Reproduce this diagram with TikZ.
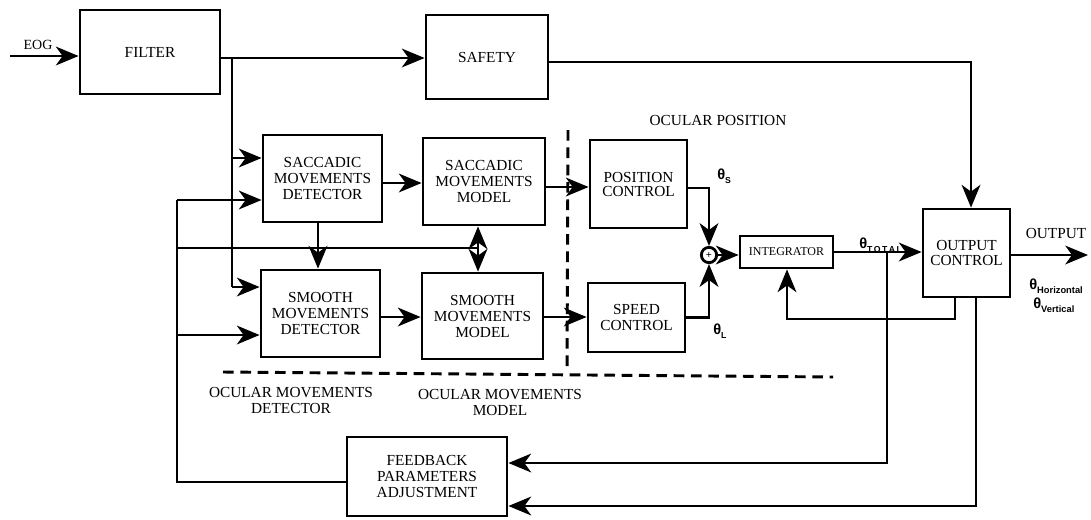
\documentclass[tikz,border=0pt]{standalone}
\usepackage{fontspec}
\setmainfont{Liberation Serif}
\newfontfamily\thf{Liberation Sans}
\usetikzlibrary{arrows.meta}
\newcommand{\thsub}[2][6.5]{{\thf\bfseries θ}\raisebox{-0.3em}{\thf\bfseries\fontsize{#1}{#1}\selectfont #2}}
\begin{document}
\begin{tikzpicture}[x=0.75pt,y=-0.75pt,
  box/.style={draw, line width=2.1pt, rectangle, align=center, inner sep=0pt,
              font=\fontsize{11.5}{12}\selectfont},
  wire/.style={line width=2.1pt},
  arr/.style={wire, -{Stealth[length=17pt,width=14pt,inset=5pt]}},
  zone/.style={line width=2.2pt, dash pattern=on 8pt off 5pt},
  lbl/.style={inner sep=0pt, align=center, font=\fontsize{11.5}{12}\selectfont},
  th/.style={inner sep=0pt, anchor=west, font=\thf\bfseries\fontsize{11}{11}\selectfont}
]
\useasboundingbox (0,0) rectangle (1091,519);

% blocks
\node[box, minimum width=105pt, minimum height=63pt] (filter) at (150,52) {FILTER};
\node[box, minimum width=91.5pt, minimum height=63pt] (safety) at (487,57) {SAFETY};
\node[box, minimum width=89.25pt, minimum height=65.25pt] (sdet) at (322.5,178.5) {SACCADIC\\MOVEMENTS\\DETECTOR};
\node[box, minimum width=91.5pt, minimum height=65.25pt] (smod) at (484,181.5) {SACCADIC\\MOVEMENTS\\MODEL};
\node[box, minimum width=89.25pt, minimum height=65.25pt] (mdet) at (320.5,313.5) {SMOOTH\\MOVEMENTS\\DETECTOR};
\node[box, minimum width=90.75pt, minimum height=64.5pt] (mmod) at (482.5,316) {SMOOTH\\MOVEMENTS\\MODEL};
\node[box, minimum width=72.75pt, minimum height=66pt, font=\fontsize{11.5}{10.5}\selectfont] (pos) at (638.5,184) {POSITION\\CONTROL};
\node[box, minimum width=72.75pt, minimum height=51.75pt] (speed) at (636.5,317.5) {SPEED\\CONTROL};
\node[draw, circle, line width=2.1pt, minimum size=11.5pt, inner sep=0pt, font=\bfseries\fontsize{8}{8}\selectfont] (sum) at (709,255) {+};
\node[box, minimum width=69.75pt, minimum height=24pt, font=\fontsize{9}{9}\selectfont] (integ) at (786.5,252) {INTEGRATOR};
\node[box, minimum width=65.25pt, minimum height=66pt, font=\fontsize{11.5}{10.6}\selectfont] (outc) at (966.5,253) {OUTPUT\\CONTROL};
\node[box, minimum width=120pt, minimum height=59.25pt] (fb) at (427,476.5) {FEEDBACK\\PARAMETERS\\ADJUSTMENT};

% labels
\node[lbl, font=\fontsize{10.5}{10.5}\selectfont] (eog) at (38,45) {EOG};
\node[lbl] (ocpos) at (718,120) {OCULAR POSITION};
\node[lbl] (omdet) at (291,400) {OCULAR MOVEMENTS\\DETECTOR};
\node[lbl] (ommod) at (500,402) {OCULAR MOVEMENTS\\MODEL};
\node[lbl] (outlbl) at (1056,233) {OUTPUT};
\node[th] (ths) at (717,176) {\thsub{S}};
\node[th] (thl) at (713,331) {\thsub{L}};
\node[th] (thtot) at (859,245) {\thsub{T\,O\,T\,A\,L}};
\node[th] (thh) at (1029,286) {\thsub[7]{Horizontal}};
\node[th] (thv) at (1033,305) {\thsub[7]{Vertical}};

% zone boundaries
\coordinate (dz1) at (223,372);
\coordinate (dz2) at (833,377);
\coordinate (dv1) at (568,130);
\coordinate (dv2) at (567,372);
\draw[zone] (dz1) -- (dz2);
\draw[zone] (dv1) -- (dv2);

% input and filter outputs
\coordinate (eogin) at (10,56);
\draw[arr] (eogin) -- (eogin -| filter.west);
\coordinate (fo) at (220,58);
\draw[arr] (fo) -- (fo -| safety.west);
\coordinate (br) at (232,58);
\coordinate (b1) at (232,158);
\coordinate (b2) at (232,287);
\draw[wire] (br) -- (b2);
\draw[arr] (b1) -- (b1 -| sdet.west);
\draw[arr] (b2) -- (b2 -| mdet.west);

% feedback distribution on the left
\coordinate (L1) at (177,200);
\coordinate (L2) at (177,248);
\coordinate (L3) at (177,335);
\coordinate (L4) at (177,482);
\coordinate (J) at (478,248);
\draw[wire] (L4 -| fb.west) -- (L4) -- (L1);
\draw[arr] (L1) -- (L1 -| sdet.west);
\draw[arr] (L3) -- (L3 -| mdet.west);
\draw[wire] (L2) -- (J);
\draw[arr] (J) -- (J |- smod.south);
\draw[arr] (J) -- (J |- mmod.north);

% detectors and models
\coordinate (a1) at (382,183);
\draw[arr] (a1) -- (a1 -| smod.west);
\coordinate (a2) at (318,222);
\draw[arr] (a2) -- (a2 |- mdet.north);
\coordinate (a3) at (380,317);
\draw[arr] (a3) -- (a3 -| mmod.west);
\coordinate (a4) at (545,187);
\draw[arr] (a4) -- (a4 -| pos.west);
\coordinate (a5) at (543,317);
\draw[arr] (a5) -- (a5 -| speed.west);

% ocular position
\coordinate (p1) at (687,188);
\draw[arr] (p1) -| (sum.north);
\draw[arr] (speed.east) -| (sum.south);
\draw[arr] (sum.east) -- (sum.east -| integ.west);
\draw[arr] (integ.east) -- (integ.east -| outc.west);

% safety to output control
\coordinate (s0) at (548,62);
\coordinate (S1) at (971,62);
\draw[arr] (s0) -- (S1) -- (S1 |- outc.north);

% output
\coordinate (out) at (1088,255);
\draw[arr] (outc.east |- out) -- (out);

% integrator feedback
\coordinate (O1) at (955,297);
\coordinate (O2) at (955,319);
\coordinate (O3) at (787,319);
\draw[arr] (O1) -- (O2) -- (O3) -- (O3 |- integ.south);

% feedback parameters inputs
\coordinate (T1) at (887,252);
\coordinate (T2) at (887,463);
\draw[arr] (T1) -- (T2) -- (T2 -| fb.east);
\coordinate (P1) at (976,297);
\coordinate (P2) at (976,506);
\draw[arr] (P1) -- (P2) -- (P2 -| fb.east);
\end{tikzpicture}
\end{document}
